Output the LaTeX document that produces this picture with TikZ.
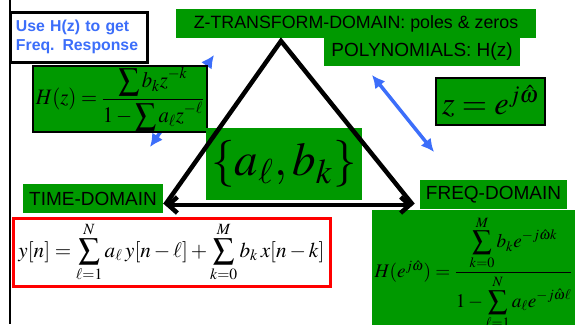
\documentclass[tikz,border=0pt]{standalone}
\usepackage{amsmath}
\usepackage{mathptmx}
\usepackage[no-math]{fontspec}
\setsansfont{Liberation Sans}
\usetikzlibrary{arrows.meta}
\definecolor{ppgreen}{RGB}{0,153,0}
\definecolor{ppblue}{RGB}{60,110,250}
\begin{document}
\begin{tikzpicture}[x=1pt,y=-1pt,
    gbox/.style={fill=ppgreen,inner sep=0pt,font=\sffamily\fontsize{19}{22}\selectfont},
    bbox/.style={gbox,draw=black,line width=2.5pt},
    link/.style={draw=ppblue,line width=3.5pt,{Latex[length=13pt,width=13pt]}-{Latex[length=13pt,width=13pt]}},
    side/.style={line width=4.5pt}]
  \useasboundingbox (0,0) rectangle (575,324);
  % left margin rule
  \draw[line width=2pt] (10,0) -- (10,324);
  % blue links
  \coordinate (l1) at (150,147);
  \coordinate (l2) at (214,55);
  \coordinate (r1) at (372,75);
  \coordinate (r2) at (434,152);
  \draw[link] (l1) -- (l2);
  \draw[link] (r1) -- (r2);
  % domain labels
  \node[gbox,font=\sffamily\fontsize{17.8}{20}\selectfont,minimum width=360pt,minimum height=29pt] (zdom) at (356,23.5) {Z-TRANSFORM-DOMAIN: poles \& zeros};
  \node[gbox,minimum width=196pt,minimum height=28pt] (poly) at (422,52) {POLYNOMIALS: H(z)};
  \node[gbox,minimum width=140pt,minimum height=29pt] (tdom) at (93,198.5) {TIME-DOMAIN};
  \node[gbox,minimum width=147pt,minimum height=29pt] (fdom) at (493.5,194.5) {FREQ-DOMAIN};
  % formulas
  \node[draw,line width=3pt,fill=white,inner xsep=6pt,text width=125pt,minimum height=50pt,align=left,
        text=ppblue,font=\sffamily\bfseries\fontsize{15.8}{19}\selectfont] (use) at (78.5,37) {Use H(z) to get\\Freq. Response};
  \node[bbox,line width=2pt,minimum width=174pt,minimum height=66pt] (hz) at (120,99)
    {\resizebox*{168pt}{63pt}{$H(z)=\dfrac{\displaystyle\sum b_k z^{-k}}{1-\displaystyle\sum a_\ell z^{-\ell}}$}};
  \node[bbox,minimum width=109pt,minimum height=47pt] (zeq) at (490.5,101.5)
    {\resizebox{97pt}{!}{$z=e^{j\hat\omega}$}};
  \node[gbox,minimum width=156pt,minimum height=72pt] (coef) at (284,164)
    {\resizebox{145pt}{!}{$\left\{a_\ell,b_k\right\}$}};
  \node[draw=red,line width=3pt,fill=white,minimum width=317pt,minimum height=68pt] (diff) at (171.5,252)
    {\resizebox{306pt}{!}{$y[n]=\displaystyle\sum_{\ell=1}^{N}a_\ell\,y[n-\ell]+\sum_{k=0}^{M}b_k\,x[n-k]$}};
  \node[gbox,minimum width=203pt,minimum height=125pt,anchor=north] (hw) at (473.5,210)
    {\resizebox{198pt}{!}{$H(e^{j\hat\omega})=\dfrac{\displaystyle\sum_{k=0}^{M}b_k e^{-j\hat\omega k}}{1-\displaystyle\sum_{\ell=1}^{N}a_\ell e^{-j\hat\omega\ell}}$}};
  % triangle
  \coordinate (top) at (281,41);
  \coordinate (tl) at (165,205);
  \coordinate (tr) at (413,205);
  \draw[side,line join=miter] (tl) -- (top) -- (tr);
  \draw[side,{Straight Barb[length=9pt,width=16pt]}-{Straight Barb[length=9pt,width=16pt]}] (tl) -- (tr);
\end{tikzpicture}
\end{document}
